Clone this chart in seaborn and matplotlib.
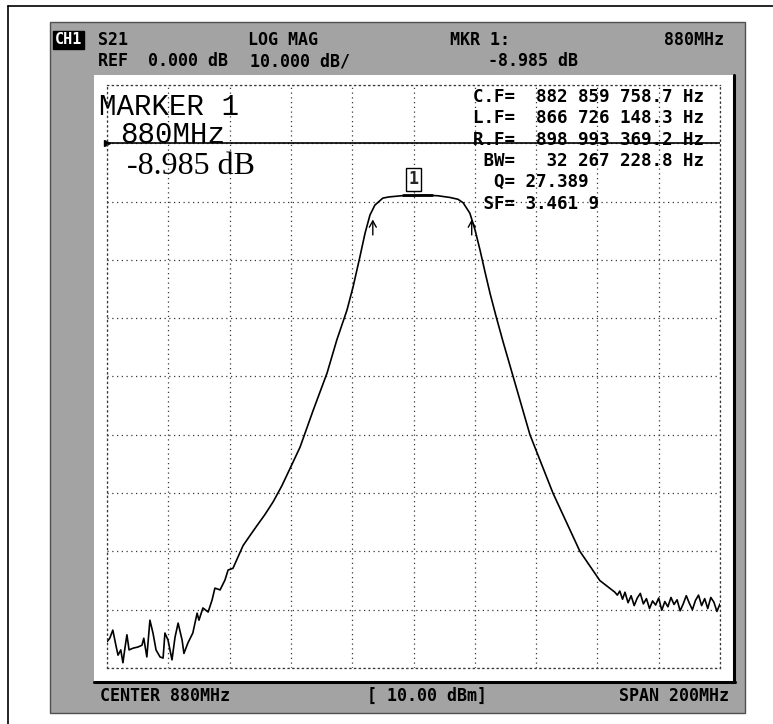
import matplotlib
matplotlib.use("Agg")
import matplotlib.pyplot as plt
import seaborn as sns
import pandas as pd
from matplotlib.patches import Rectangle

# ---------------- data ----------------
freq_mhz = [780.0, 780.9, 781.9, 782.9, 783.6, 784.5, 785.2, 785.9, 786.5, 787.2,
            788.5, 790.1, 791.4, 792.0, 793.0, 794.0, 795.0, 796.0, 797.3, 798.3,
            798.9, 799.9, 801.2, 802.2, 803.2, 804.5, 805.1, 806.4, 808.0, 809.4,
            810.0, 811.3, 813.0, 814.3, 815.2, 816.9, 818.5, 819.5, 821.1, 822.7,
            824.4, 826.5, 828.9, 831.5, 834.2, 837.0, 839.7, 843.0, 847.2, 851.8,
            855.0, 858.3, 860.3, 862.5, 864.2, 865.8, 867.4, 870.0, 872.0, 876.0,
            880.0, 884.0, 888.0, 892.0, 894.5, 896.2, 898.4, 900.1, 901.7, 903.3,
            905.0, 907.0, 909.2, 912.5, 918.0, 925.5, 934.3, 940.8, 945.7,
            946.5, 947.3, 948.2, 949.0, 950.0, 951.0, 952.0, 953.0, 954.0, 955.0,
            956.0, 957.0, 958.0, 959.0, 960.0, 961.0, 962.0, 963.0, 964.0, 965.0,
            966.0, 967.0, 968.0, 969.0, 970.0, 971.0, 972.0, 973.0, 974.0, 975.0,
            976.0, 977.0, 978.0, 979.0, 980.0]
s21_db = [-85.5, -84.9, -83.5, -86.1, -87.8, -86.9, -89.1, -86.4, -84.3, -86.9,
          -86.6, -86.4, -86.1, -84.9, -88.1, -81.8, -84.0, -86.9, -88.1, -88.3,
          -84.0, -85.2, -88.6, -84.7, -82.3, -85.2, -87.5, -85.7, -84.0, -80.6,
          -81.8, -79.7, -80.4, -78.3, -76.3, -76.6, -74.9, -73.2, -72.9, -71.0,
          -69.0, -67.4, -65.6, -63.7, -61.5, -58.8, -55.8, -52.1, -45.9, -39.4,
          -33.7, -28.6, -24.6, -19.5, -15.4, -12.3, -10.6, -9.4, -9.2, -9.0,
          -8.985, -8.9, -9.0, -9.3, -9.6, -10.2, -12.0, -14.9, -18.3, -22.0,
          -25.8, -29.8, -34.0, -40.0, -50.0, -60.0, -70.0, -75.0, -77.0,
          -77.5, -76.8, -78.2, -77.0, -78.8, -77.6, -79.3, -78.0, -77.2, -79.0,
          -78.1, -79.8, -78.5, -79.2, -78.0, -80.1, -78.6, -79.5, -77.9, -79.1,
          -78.3, -80.2, -79.0, -77.6, -78.9, -80.0, -78.4, -77.5, -79.3, -78.1,
          -79.8, -77.9, -78.7, -80.3, -79.0]

center_mhz = 880
span_mhz = 200
ref_db = 0.0
scale_db = 10.0
marker_mhz = 880
marker_db = -8.985
lf_mhz = 866.726
rf_mhz = 898.993

header_left = ["S21", "LOG MAG", "MKR 1:", "880MHz"]
header_row2 = ["REF  0.000 dB", "10.000 dB/", "-8.985 dB"]
marker_lines = ["MARKER 1", "880MHz", "-8.985 dB"]
info_lines = ["C.F=  882 859 758.7 Hz",
              "L.F=  866 726 148.3 Hz",
              "R.F=  898 993 369.2 Hz",
              " BW=   32 267 228.8 Hz",
              "  Q= 27.389",
              " SF= 3.461 9"]
footer = ["CENTER 880MHz", "[ 10.00 dBm]", "SPAN 200MHz"]

df = pd.DataFrame({"freq": freq_mhz, "db": s21_db})

# ---------------- figure ----------------
sns.set_style("white")
plt.rcParams["font.family"] = ["DejaVu Sans"]

W, H = 773, 724
fig = plt.figure(figsize=(W / 100, H / 100), dpi=100)
fig.patch.set_facecolor("white")


def fx(x):
    return x / W


def fy(y):
    return 1 - y / H


# background drawing layer in pixel coordinates
bg = fig.add_axes([0, 0, 1, 1])
bg.set_xlim(0, W)
bg.set_ylim(H, 0)
bg.axis("off")

# page border (left and top)
bg.plot([8, 8], [6, 724], color="black", lw=1.2)
bg.plot([8, 773], [6, 6], color="black", lw=1.2)

# gray instrument frame
bg.add_patch(Rectangle((50, 22), 695, 691, facecolor="#a3a3a3", edgecolor="#505050", lw=1.0))
# white screen panel with dark shadow on right/bottom
bg.add_patch(Rectangle((94, 75), 640, 607, facecolor="white", edgecolor="none"))
bg.plot([734, 734], [75, 682], color="black", lw=2.2)
bg.plot([94, 735], [682, 682], color="black", lw=2.2)

mono = "DejaVu Sans Mono"
hdr = dict(family=mono, fontsize=12, fontweight="bold", color="black", va="center")

bg.text(55, 40, "CH1", color="white", family=mono, fontsize=11, fontweight="bold", va="center",
        bbox=dict(boxstyle="square,pad=0.12", fc="black", ec="black"))
bg.text(98, 40, header_left[0], **hdr)
bg.text(248, 40, header_left[1], **hdr)
bg.text(450, 40, header_left[2], **hdr)
bg.text(724, 40, header_left[3], ha="right", **hdr)
bg.text(98, 61, header_row2[0], **hdr)
bg.text(250, 61, header_row2[1], **hdr)
bg.text(488, 61, header_row2[2], **hdr)

bg.text(100, 696, footer[0], **hdr)
bg.text(367, 696, footer[1], **hdr)
bg.text(729, 696, footer[2], ha="right", **hdr)

# ---------------- trace axes ----------------
ax = fig.add_axes([107 / W, (H - 668) / H, 613 / W, 583 / H])
ax.set_facecolor("white")
sns.lineplot(data=df, x="freq", y="db", ax=ax, color="black", lw=1.2, sort=False)
ax.set_xlim(center_mhz - span_mhz / 2, center_mhz + span_mhz / 2)
ax.set_ylim(ref_db - 9 * scale_db, ref_db + scale_db)
ax.set_xticks([center_mhz - span_mhz / 2 + i * span_mhz / 10 for i in range(11)])
ax.set_yticks([ref_db - 9 * scale_db + i * scale_db for i in range(11)])
ax.grid(True, ls=(0, (1, 2.8)), color="#383838", lw=0.9)
ax.tick_params(length=0, labelbottom=False, labelleft=False)
ax.set_xlabel("")
ax.set_ylabel("")
for sp in ax.spines.values():
    sp.set_linestyle((0, (1, 2.8)))
    sp.set_color("#383838")
    sp.set_linewidth(0.9)

# reference line with small arrow at left
ax.axhline(ref_db, color="black", lw=1.2, zorder=3)
ax.plot([0.0], [ref_db], marker=">", color="black", ms=5,
        transform=ax.get_yaxis_transform(), clip_on=False)

# marker box and flat marker line
ax.text(marker_mhz, marker_db + 2.8, "1", family=mono, fontsize=12, fontweight="bold",
        ha="center", va="center",
        bbox=dict(boxstyle="square,pad=0.15", fc="white", ec="black", lw=1.0))
ax.plot([marker_mhz - 3.5, marker_mhz + 6], [marker_db + 0.15, marker_db + 0.15], color="black", lw=2.0)

# L.F / R.F arrows
for f in (lf_mhz, rf_mhz):
    ax.annotate("", xy=(f, -12.6), xytext=(f, -16.2),
                arrowprops=dict(arrowstyle="->,head_length=0.45,head_width=0.25", color="black", lw=1.0))

# big marker readout (figure-level text so it sits above the grid axes)
fig.text(fx(99), fy(115), marker_lines[0], family="Liberation Mono", fontsize=21,
         va="baseline", color="black", zorder=5)
fig.text(fx(120), fy(143), marker_lines[1], family="Liberation Mono", fontsize=21,
         va="baseline", color="black", zorder=5)
fig.text(fx(127), fy(174), marker_lines[2], family="Liberation Serif", fontsize=23,
         va="baseline", color="black", zorder=5)

# info block
ys = [97, 118, 140, 161, 182, 204]
for line, y in zip(info_lines, ys):
    fig.text(fx(473), fy(y), line, family=mono, fontsize=12.6, fontweight="bold",
             va="center", ha="left", color="black", zorder=5)

fig.savefig("out.png", dpi=100, facecolor="white")
